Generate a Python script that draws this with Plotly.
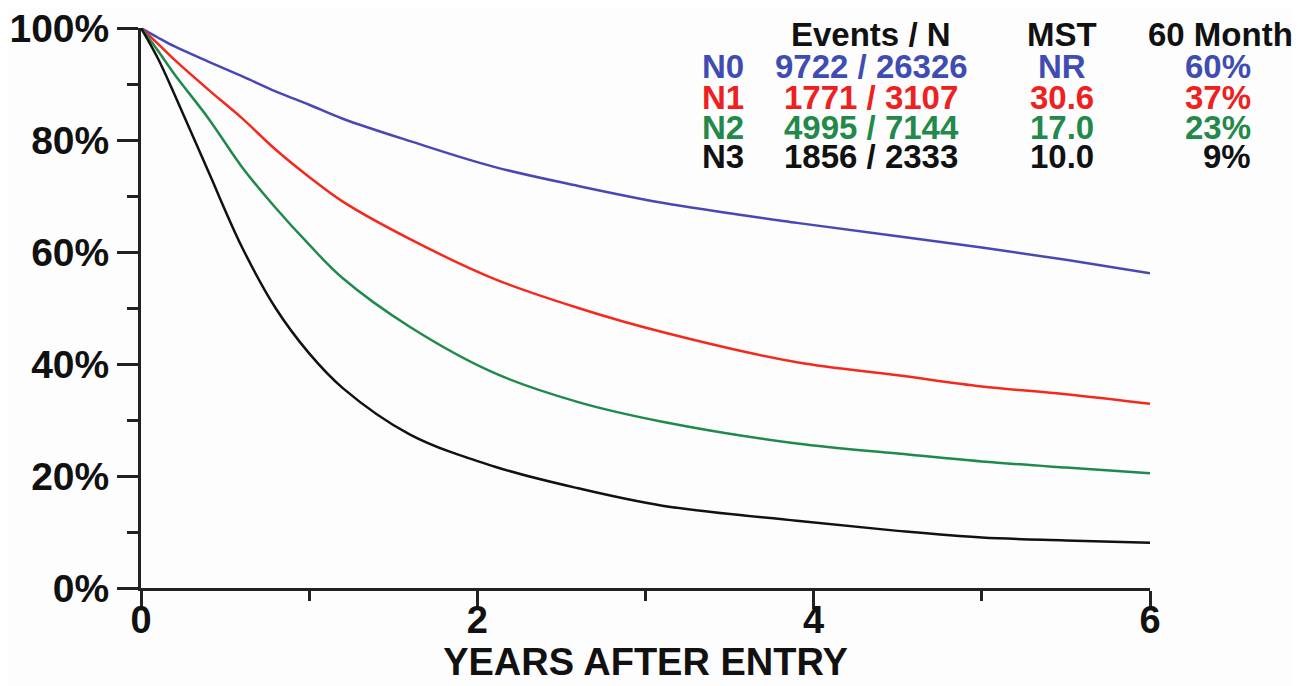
import plotly.graph_objects as go

# Time (years after entry)
years = [0, 0.1, 0.2, 0.4, 0.6, 0.8, 1.0, 1.2, 1.6, 2.1, 2.6, 3.1, 3.9, 4.5, 5.0, 5.5, 6.0]

# Survival (%) per nodal group
n0 = [100, 98.3, 96.7, 94.0, 91.4, 88.7, 86.3, 83.8, 79.8, 75.2, 71.8, 68.8, 65.2, 62.8, 60.8, 58.6, 56.2]
n1 = [100, 97.2, 94.3, 89.0, 83.9, 78.3, 73.4, 69.0, 62.3, 55.2, 50.0, 45.7, 40.3, 38.0, 36.0, 34.6, 32.9]
n2 = [100, 96.0, 91.7, 83.9, 75.2, 67.9, 61.3, 55.3, 46.6, 38.4, 33.2, 29.7, 25.8, 24.0, 22.6, 21.5, 20.5]
n3 = [100, 94.6, 88.1, 74.4, 60.9, 50.0, 41.9, 35.7, 27.4, 21.7, 17.8, 14.7, 12.0, 10.2, 9.0, 8.5, 8.1]

groups = ["N0", "N1", "N2", "N3"]
events_n = ["9722 / 26326", "1771 / 3107", "4995 / 7144", "1856 / 2333"]
mst = ["NR", "30.6", "17.0", "10.0"]
month60 = ["60%", "37%", "23%", "9%"]

y_ticks = [0, 20, 40, 60, 80, 100]
y_ticktext = ["0%", "20%", "40%", "60%", "80%", "100%"]
x_ticks = [0, 2, 4, 6]

line_colors = ["#4848b4", "#f5281e", "#1f8a4c", "#111111"]
text_colors = ["#3f4db2", "#ee2020", "#23894a", "#111111"]

FONT = "Liberation Sans, Arial, sans-serif"
AX = "#222222"

fig = go.Figure()
for name, vals, col in zip(groups, [n0, n1, n2, n3], line_colors):
    fig.add_trace(go.Scatter(
        x=years, y=vals, mode="lines", name=name,
        line=dict(color=col, width=2.5, shape="spline", smoothing=1.0),
        cliponaxis=False, showlegend=False,
    ))

fig.update_xaxes(
    range=[0, 6], tickvals=x_ticks, ticktext=[str(v) for v in x_ticks],
    ticks="outside", ticklen=18, tickwidth=3, tickcolor=AX,
    showline=True, linewidth=3, linecolor=AX, showgrid=False, zeroline=False,
    minor=dict(tickvals=[1, 3, 5], ticks="outside", ticklen=10, tickwidth=2.5, tickcolor=AX),
    tickfont=dict(size=38, family=FONT, color="#111", weight="bold"),
    ticklabelstandoff=-22, ticklabeloverflow="allow",
    title=dict(text="YEARS AFTER ENTRY", standoff=0,
               font=dict(size=38, family=FONT, color="#111", weight="bold")),
    automargin=False,
)
fig.update_yaxes(
    range=[0, 100], tickvals=y_ticks, ticktext=y_ticktext,
    ticks="outside", ticklen=21, tickwidth=3, tickcolor=AX,
    showline=True, linewidth=3, linecolor=AX, showgrid=False, zeroline=False,
    minor=dict(tickvals=[10, 30, 50, 70, 90], ticks="outside", ticklen=11, tickwidth=2.5, tickcolor=AX),
    tickfont=dict(size=39, family=FONT, color="#111", weight="bold"),
    ticklabelstandoff=0, ticklabeloverflow="allow",
    automargin=False,
)

# Table-style legend
row_y = [0.932, 0.876, 0.823, 0.771]
head_y = 0.9875
tfont = lambda c: dict(size=33, family=FONT, color=c, weight="bold")
ann = []
ann.append(dict(x=0.7235, y=head_y, text="Events / N", xanchor="center"))
ann.append(dict(x=0.9128, y=head_y, text="MST", xanchor="center"))
ann.append(dict(x=1.0694, y=head_y, text="60 Month", xanchor="center"))
annotations = [dict(a, xref="paper", yref="paper", yanchor="middle", showarrow=False, font=tfont("#111")) for a in ann]
for i in range(4):
    c = text_colors[i]
    for x, txt, anc in [(0.554, groups[i], "left"), (0.7235, events_n[i], "center"),
                        (0.9128, mst[i], "center"), (1.102, month60[i], "right")]:
        annotations.append(dict(x=x, y=row_y[i], xref="paper", yref="paper", text=txt,
                                xanchor=anc, yanchor="middle", showarrow=False, font=tfont(c)))

# The page places the figure 8 px from the top-left corner, so size and margins allow for it
fig.update_layout(
    width=1293, height=678,
    margin=dict(l=133, r=151, t=20, b=98),
    paper_bgcolor="#fdfdfd", plot_bgcolor="#fdfdfd",
    annotations=annotations,
)

fig.write_html("out.html")
